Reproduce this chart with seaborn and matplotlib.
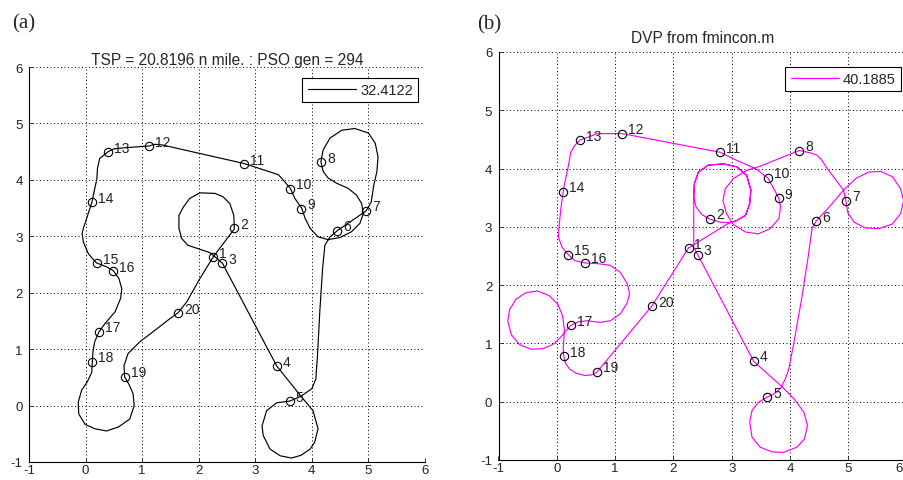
import matplotlib
matplotlib.use("Agg")
import matplotlib.pyplot as plt
import matplotlib.transforms as mtransforms
import seaborn as sns
import pandas as pd

# ---------------- data ----------------
wp_labels = [str(i) for i in range(1, 21)]
wp_x = [2.26, 2.63, 2.42, 3.38, 3.61, 4.45, 4.96, 4.16, 3.81, 3.62,
        2.80, 1.12, 0.40, 0.11, 0.20, 0.49, 0.24, 0.12, 0.69, 1.63]
wp_y = [2.63, 3.14, 2.52, 0.70, 0.08, 3.10, 3.45, 4.31, 3.49, 3.84,
        4.28, 4.60, 4.49, 3.60, 2.52, 2.38, 1.31, 0.78, 0.51, 1.64]

# path (a): PSO Dubins tour
path_a_x = [2.26, 2.63, 2.62, 2.55, 2.43, 2.29, 2.02, 1.84, 1.73, 1.65, 1.65, 1.70, 1.81, 2.02, 2.20, 2.32,
            2.42, 3.38, 3.82, 4.02, 4.11, 4.05, 3.97, 3.81, 3.64, 3.44, 3.26, 3.14, 3.12, 3.20, 3.38,
            3.61, 3.80, 4.00, 4.07, 4.10, 4.14, 4.19, 4.23, 4.32,
            4.45, 4.96, 5.05, 5.09, 5.15, 5.17, 5.12, 5.00, 4.76, 4.53, 4.32, 4.20,
            4.16, 4.20, 4.29, 4.44, 4.64, 4.79, 4.88, 4.91, 4.85, 4.70, 4.50, 4.29, 4.11, 3.97, 3.88,
            3.82, 3.70, 3.62, 3.49, 3.41, 3.17, 2.80, 1.35, 1.22, 1.12, 0.70, 0.50,
            0.40, 0.25, 0.21, 0.20, 0.11, 0.02, -0.04, -0.06, -0.04, 0.05,
            0.19, 0.37, 0.49, 0.59, 0.64, 0.62, 0.52, 0.34, 0.24, 0.16, 0.13,
            0.12, 0.11, 0.03, -0.07, -0.13, -0.12, -0.01, 0.16, 0.37, 0.58, 0.78, 0.86, 0.84, 0.77,
            0.69, 0.68, 0.75, 0.96, 1.26, 1.49, 1.63, 1.79, 2.02, 2.26]
path_a_y = [2.64, 3.13, 3.37, 3.58, 3.70, 3.76, 3.77, 3.67, 3.52, 3.37, 3.14, 2.96, 2.84, 2.77, 2.71, 2.61,
            2.52, 0.70, 0.15, -0.09, -0.41, -0.65, -0.77, -0.88, -0.93, -0.89, -0.77, -0.53, -0.36, -0.09, 0.05,
            0.08, 0.16, 0.30, 0.47, 0.89, 1.66, 2.43, 2.84, 2.99,
            3.10, 3.45, 3.61, 3.88, 4.15, 4.41, 4.65, 4.83, 4.91, 4.88, 4.74, 4.53,
            4.32, 4.15, 4.03, 3.94, 3.85, 3.73, 3.58, 3.40, 3.23, 3.08, 2.98, 2.94, 2.99, 3.14, 3.32,
            3.50, 3.67, 3.85, 4.00, 4.09, 4.17, 4.29, 4.62, 4.63, 4.60, 4.57, 4.55,
            4.50, 4.38, 4.20, 4.02, 3.60, 3.32, 3.14, 3.05, 2.90, 2.69,
            2.53, 2.46, 2.39, 2.25, 2.07, 1.90, 1.66, 1.45, 1.31, 1.13, 0.95,
            0.79, 0.59, 0.42, 0.27, 0.06, -0.15, -0.33, -0.41, -0.45, -0.38, -0.24, 0.00, 0.21, 0.37,
            0.51, 0.71, 0.92, 1.13, 1.36, 1.54, 1.64, 1.84, 2.25, 2.64]

# path (b): DVP from fmincon
path_b_x = [2.26, 2.98, 3.09, 3.24, 3.31, 3.33, 3.26, 3.09, 2.86, 2.60, 2.43, 2.36, 2.35, 2.39, 2.49,
            2.63, 2.81, 2.98, 3.09, 3.24, 3.31, 3.33, 3.26, 3.09, 2.86, 2.60, 2.43, 2.36, 2.35, 2.35, 2.35,
            2.42, 3.38, 3.84, 4.07, 4.24, 4.30, 4.25, 4.12, 3.89, 3.69, 3.49, 3.35, 3.31, 3.35, 3.46,
            3.61, 3.72, 3.84, 3.92, 3.98, 4.07, 4.21, 4.30, 4.38,
            4.45, 4.70, 4.92, 5.13, 5.35, 5.56, 5.76, 5.90, 5.95, 5.90, 5.76, 5.53, 5.30, 5.10, 4.99,
            4.96, 4.92, 4.64, 4.55, 4.47, 4.35,
            4.16, 3.49, 3.26, 3.03, 2.89, 2.85, 2.91, 3.03, 3.24, 3.46, 3.66, 3.81, 3.84,
            3.81, 3.72, 3.62, 3.41, 3.09, 2.80, 1.12, 0.92, 0.69, 0.54,
            0.40, 0.31, 0.24, 0.20, 0.14, 0.11, 0.07, 0.04, 0.03, 0.09,
            0.20, 0.31, 0.49, 0.69, 0.92, 1.09, 1.21, 1.25, 1.20, 1.09, 0.92, 0.74, 0.52, 0.37,
            0.24, 0.06, -0.07, -0.24, -0.44, -0.64, -0.78, -0.84, -0.81, -0.70, -0.53, -0.33, -0.13, 0.02,
            0.10, 0.13, 0.12, 0.11,
            0.12, 0.15, 0.22, 0.33, 0.48, 0.60, 0.69, 1.63, 2.26]
path_b_y = [2.64, 3.08, 3.11, 3.20, 3.40, 3.63, 3.88, 4.03, 4.08, 4.06, 3.94, 3.74, 3.51, 3.34, 3.21,
            3.13, 3.08, 3.07, 3.11, 3.20, 3.40, 3.63, 3.88, 4.03, 4.08, 4.06, 3.94, 3.74, 3.51, 3.11, 2.65,
            2.52, 0.69, 0.28, 0.05, -0.18, -0.41, -0.64, -0.78, -0.87, -0.86, -0.78, -0.61, -0.35, -0.15, -0.01,
            0.08, 0.13, 0.23, 0.39, 0.56, 1.02, 1.82, 2.40, 2.97,
            3.10, 3.37, 3.63, 3.83, 3.94, 3.95, 3.86, 3.65, 3.45, 3.23, 3.05, 2.97, 2.98, 3.08, 3.25,
            3.45, 3.63, 4.00, 4.14, 4.23, 4.27,
            4.31, 4.04, 3.97, 3.83, 3.65, 3.45, 3.23, 3.04, 2.91, 2.88, 2.97, 3.14, 3.34,
            3.49, 3.66, 3.84, 4.00, 4.14, 4.28, 4.60, 4.60, 4.60, 4.54,
            4.49, 4.40, 4.28, 4.05, 3.77, 3.60, 3.31, 3.02, 2.82, 2.65,
            2.52, 2.42, 2.38, 2.37, 2.34, 2.22, 2.02, 1.85, 1.68, 1.51, 1.39, 1.36, 1.39, 1.37,
            1.31, 1.10, 0.98, 0.91, 0.90, 0.98, 1.15, 1.38, 1.58, 1.76, 1.87, 1.90, 1.82, 1.67,
            1.47, 1.24, 1.05, 0.90,
            0.78, 0.66, 0.56, 0.49, 0.45, 0.46, 0.51, 1.64, 2.64]

ticks = [-1, 0, 1, 2, 3, 4, 5, 6]
legend_a = "32.4122"
legend_b = "40.1885"
title_a = "TSP = 20.8196 n mile. : PSO gen = 294"
title_b = "DVP from fmincon.m"

# ---------------- style ----------------
sns.set_style("white")
plt.rcParams["font.family"] = ["Liberation Sans", "DejaVu Sans"]
plt.rcParams["axes.unicode_minus"] = False

fig = plt.figure(figsize=(9.04, 4.81), dpi=100)
ax_a = fig.add_axes([29/904, 1-463/481, (425-29)/904, (463-68)/481])
ax_b = fig.add_axes([498.5/904, 1-461/481, (906.5-498.5)/904, (461-53)/481])

def draw(ax, px, py, color, lab, title, pad, leg_anchor):
    df = pd.DataFrame({"x": px, "y": py})
    sns.lineplot(data=df, x="x", y="y", sort=False, estimator=None, color=color,
                 lw=0.85, ax=ax, label=lab)
    ax.plot(wp_x, wp_y, "o", mfc="none", mec="k", ms=6.0, mew=0.8, zorder=4)
    for t, x, y in zip(wp_labels, wp_x, wp_y):
        ax.annotate(t, (x, y), xytext=(4.3, -1.8), textcoords="offset points",
                    ha="left", va="bottom", fontsize=10, color="#222222", zorder=5)
    ax.set_xlim(-1, 6)
    ax.set_ylim(-1, 6)
    ax.set_xticks(ticks)
    ax.set_yticks(ticks)
    ax.set_xticklabels([str(t) for t in ticks])
    ax.set_yticklabels([str(t) for t in ticks])
    ax.set_xlabel("")
    ax.set_ylabel("")
    ax.grid(True, color="k", linestyle=(0, (1, 2.6)), linewidth=0.7)
    for s in ["top", "right"]:
        ax.spines[s].set_visible(False)
    for s in ["left", "bottom"]:
        ax.spines[s].set_color("k")
        ax.spines[s].set_linewidth(0.8)
    ax.tick_params(direction="in", length=3, width=0.6, labelsize=9.5, colors="#222222",
                   left=True, bottom=True, top=False, right=False)
    ax.tick_params(axis="y", pad=4.5)
    ax.tick_params(axis="x", pad=1.5)
    ax.set_title(title, fontsize=11.2, pad=pad)
    leg = ax.legend(loc="upper right", bbox_to_anchor=leg_anchor, borderaxespad=0,
                    fontsize=10.5, handlelength=3.3, handletextpad=0.3, borderpad=0.35,
                    fancybox=False, framealpha=1, edgecolor="k")
    leg.get_frame().set_linewidth(0.8)

draw(ax_a, path_a_x, path_a_y, "k", legend_a, title_a, 2, (0.982, 0.972))
draw(ax_b, path_b_x, path_b_y, "#ff00ff", legend_b, title_b, 7, (0.9865, 0.963))

# the last x tick label of panel (b) sits at the figure edge; nudge it inside
last = ax_b.get_xticklabels()[-1]
last.set_transform(last.get_transform() +
                   mtransforms.ScaledTranslation(-7/100, 0, fig.dpi_scale_trans))

fig.text(12/904, 1-24/481, "(a)", family=["Liberation Serif", "DejaVu Serif"],
         fontsize=15, va="center", ha="left")
fig.text(477/904, 1-25/481, "(b)", family=["Liberation Serif", "DejaVu Serif"],
         fontsize=15, va="center", ha="left")

fig.savefig("out.png", dpi=100)
